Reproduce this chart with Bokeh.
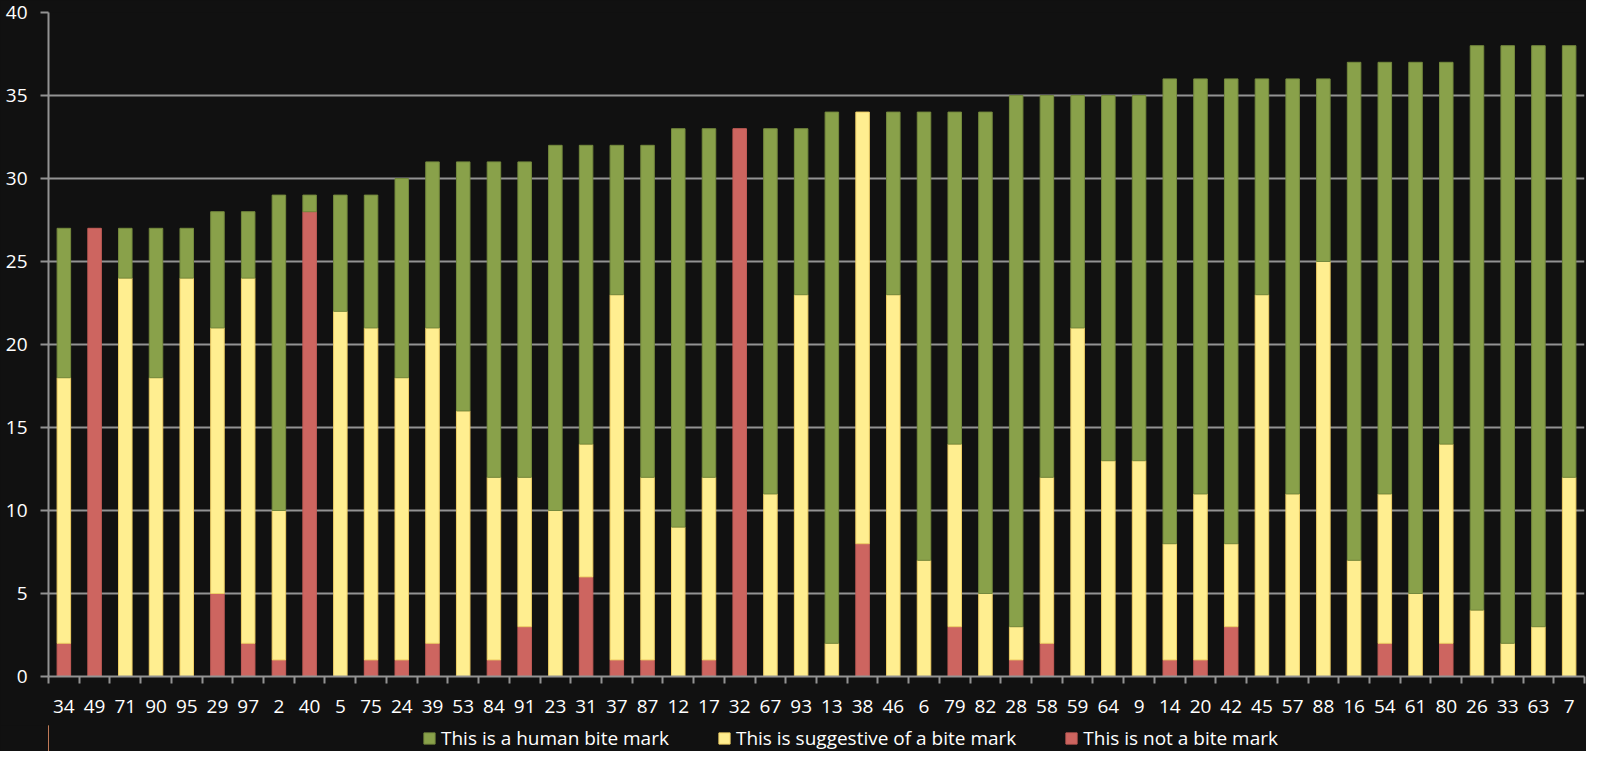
from bokeh.plotting import figure
from bokeh.layouts import column
from bokeh.models import ColumnDataSource, Range1d, FixedTicker, Legend, LegendItem
from bokeh.embed import file_html
from bokeh.resources import INLINE

# ---- data -------------------------------------------------------------
categories = ["34", "49", "71", "90", "95", "29", "97", "2", "40", "5",
              "75", "24", "39", "53", "84", "91", "23", "31", "37", "87",
              "12", "17", "32", "67", "93", "13", "38", "46", "6", "79",
              "82", "28", "58", "59", "64", "9", "14", "20", "42", "45",
              "57", "88", "16", "54", "61", "80", "26", "33", "63", "7"]

not_bite = [2, 27, 0, 0, 0, 5, 2, 1, 28, 0,
            1, 1, 2, 0, 1, 3, 0, 6, 1, 1,
            0, 1, 33, 0, 0, 0, 8, 0, 0, 3,
            0, 1, 2, 0, 0, 0, 1, 1, 3, 0,
            0, 0, 0, 2, 0, 2, 0, 0, 0, 0]

suggestive = [16, 0, 24, 18, 24, 16, 22, 9, 0, 22,
              20, 17, 19, 16, 11, 9, 10, 8, 22, 11,
              9, 11, 0, 11, 23, 2, 26, 23, 7, 11,
              5, 2, 10, 21, 13, 13, 7, 10, 5, 23,
              11, 25, 7, 9, 5, 12, 4, 2, 3, 12]

human = [9, 0, 3, 9, 3, 7, 4, 19, 1, 7,
         8, 12, 10, 15, 19, 19, 22, 18, 9, 20,
         24, 21, 0, 22, 10, 32, 0, 11, 27, 20,
         29, 32, 23, 14, 22, 22, 28, 25, 28, 13,
         25, 11, 30, 26, 32, 23, 34, 36, 35, 26]

series_labels = ["This is a human bite mark",
                 "This is suggestive of a bite mark",
                 "This is not a bite mark"]

y_ticks = [0, 5, 10, 15, 20, 25, 30, 35, 40]

# ---- styling ----------------------------------------------------------
FONT = "Open Sans"
BG = "#111111"
GRID = "#939393"
GREEN, GREEN_E = "#89A14A", "#74893d"
YELLOW, YELLOW_E = "#FFEE90", "#EFCF66"
RED, RED_E = "#CD6560", "#C45D58"

n = len(categories)
xs = list(range(n))

src = ColumnDataSource(dict(
    x=xs,
    not_bite=not_bite,
    suggestive=suggestive,
    human=human,
    a_not=[1 if v > 0 else 0 for v in not_bite],
    a_sug=[1 if v > 0 else 0 for v in suggestive],
    a_hum=[1 if v > 0 else 0 for v in human],
))

p = figure(width=1586, height=725,
           output_backend="svg", toolbar_location=None,
           x_range=Range1d(-0.5, n - 0.5), y_range=Range1d(0, 40),
           background_fill_color=BG, border_fill_color=BG,
           outline_line_color=None,
           min_border_left=48, min_border_right=2,
           min_border_top=12, min_border_bottom=49)

rs = p.vbar_stack(["not_bite", "suggestive", "human"], x="x", width=0.44,
                  source=src,
                  fill_color=[RED, YELLOW, GREEN],
                  line_color=[RED_E, YELLOW_E, GREEN_E],
                  line_alpha=["a_not", "a_sug", "a_hum"],
                  line_width=1)

# ---- axes -------------------------------------------------------------
xa = p.xaxis[0]
xa.ticker = FixedTicker(ticks=xs, minor_ticks=[i - 0.5 for i in range(n + 1)])
xa.major_label_overrides = {i: c for i, c in zip(xs, categories)}
xa.axis_line_color = GRID
xa.axis_line_width = 2
xa.major_tick_line_color = None
xa.major_tick_out = 0
xa.major_tick_in = 0
xa.minor_tick_line_color = GRID
xa.minor_tick_line_width = 2
xa.minor_tick_out = 7
xa.minor_tick_in = 0
xa.major_label_text_color = "white"
xa.major_label_text_font = FONT
xa.major_label_text_font_size = "19px"
xa.major_label_standoff = 16

ya = p.yaxis[0]
ya.ticker = FixedTicker(ticks=y_ticks)
ya.axis_line_color = GRID
ya.axis_line_width = 2
ya.major_tick_line_color = GRID
ya.major_tick_line_width = 2
ya.major_tick_out = 8
ya.major_tick_in = 0
ya.minor_tick_line_color = None
ya.major_label_text_color = "white"
ya.major_label_text_font = FONT
ya.major_label_text_font_size = "19px"
ya.major_label_standoff = 13

p.xgrid.visible = False
p.ygrid.grid_line_color = GRID
p.ygrid.grid_line_width = 2

# ---- legend strip (separate small figure below the chart) -------------
lg = figure(width=1586, height=26, output_backend="svg", toolbar_location=None,
            x_range=Range1d(0, 1), y_range=Range1d(0, 1),
            x_axis_type=None, y_axis_type=None,
            background_fill_alpha=0, border_fill_color=BG,
            outline_line_color=None,
            min_border_left=48, min_border_right=2,
            min_border_top=0, min_border_bottom=0)
lg.xgrid.visible = False
lg.ygrid.visible = False

swatch_fill = [GREEN, YELLOW, RED]
swatch_line = [GREEN_E, YELLOW_E, RED_E]
items = []
for lab, fc, lc in zip(series_labels, swatch_fill, swatch_line):
    # off-screen dummy bar: only used to draw the legend swatch
    r = lg.vbar(x=[-10], top=[1], width=0.5, fill_color=fc, line_color=lc)
    items.append(LegendItem(label=lab, renderers=[r]))

legend = Legend(
    items=items, location=(374, 0), orientation="horizontal",
    background_fill_alpha=0, border_line_color=None,
    label_text_color="white", label_text_font=FONT,
    label_text_font_size="19px",
    glyph_width=14, glyph_height=14, label_standoff=5,
    spacing=48, padding=0, margin=0)
lg.add_layout(legend)

layout = column(p, lg, spacing=0, styles={"background-color": BG})

open("out.html", "w").write(file_html(layout, INLINE))
